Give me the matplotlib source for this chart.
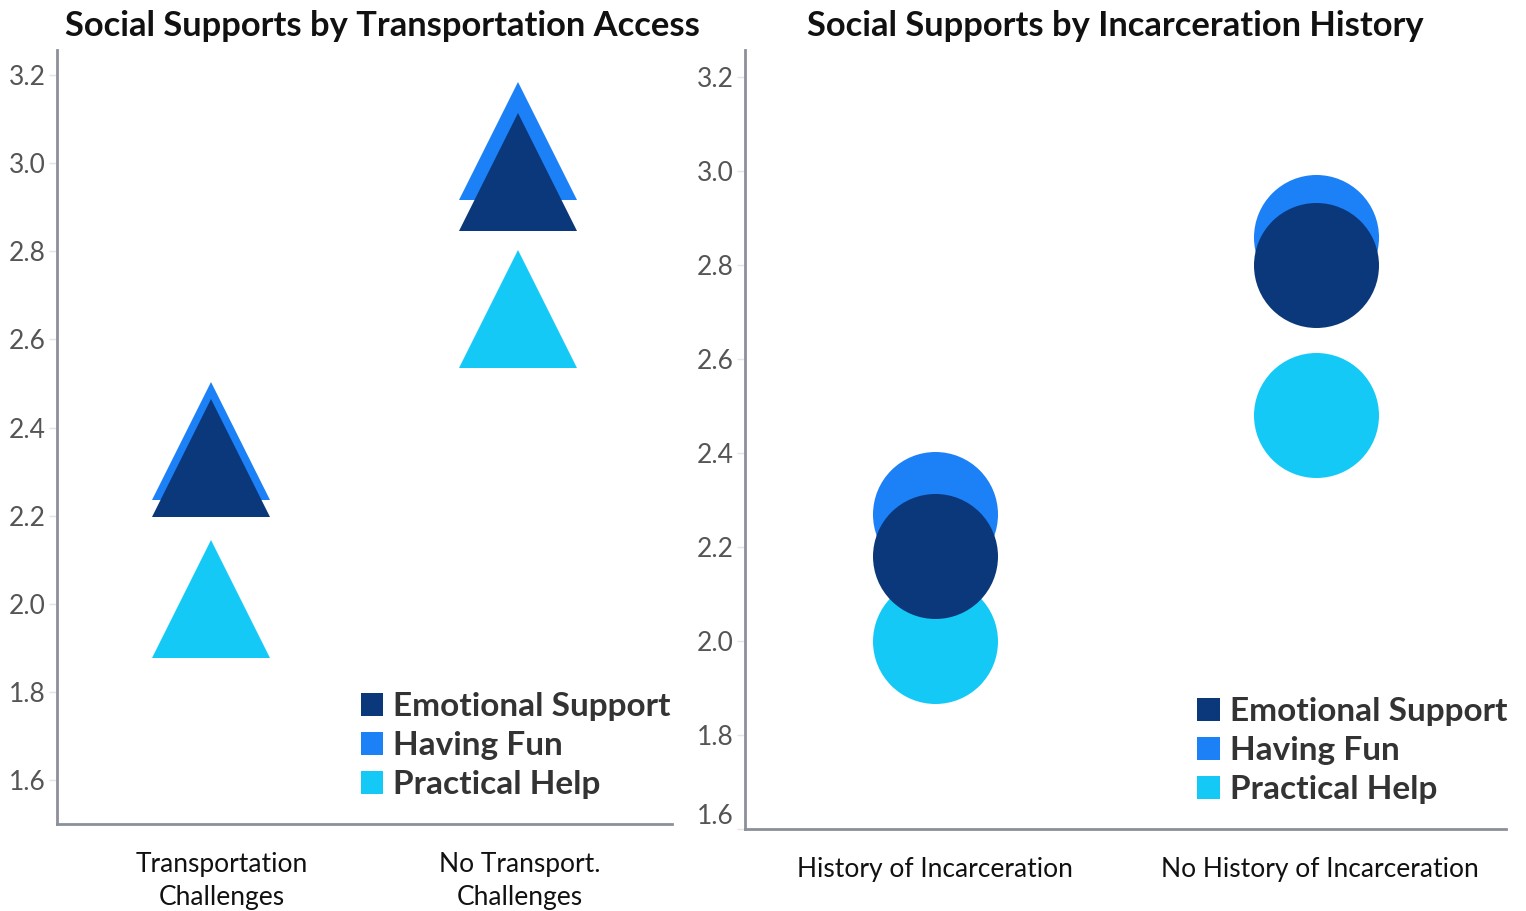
import matplotlib.pyplot as plt
from matplotlib.patches import Patch

plt.rcParams['font.family'] = ['Lato', 'DejaVu Sans']

series = ['Emotional Support', 'Having Fun', 'Practical Help']
colors = {'Emotional Support': '#0b377b', 'Having Fun': '#1c80f7', 'Practical Help': '#15c9f6'}

transport_groups = ['Transportation\nChallenges', 'No Transport.\nChallenges']
transport_vals = {
    'Emotional Support': [2.33, 2.98],
    'Having Fun': [2.37, 3.05],
    'Practical Help': [2.01, 2.67],
}

incarc_groups = ['History of Incarceration', 'No History of Incarceration']
incarc_vals = {
    'Emotional Support': [2.18, 2.80],
    'Having Fun': [2.27, 2.86],
    'Practical Help': [2.00, 2.48],
}

draw_order = ['Practical Help', 'Having Fun', 'Emotional Support']
spine_col = '#8b9099'

fig = plt.figure(figsize=(15.26, 9.11), dpi=100)
W, H = 1526, 911
ax1 = fig.add_axes([57 / W, (H - 824) / H, (672 - 57) / W, (824 - 50) / H])
ax2 = fig.add_axes([745 / W, (H - 829) / H, (1506 - 745) / W, (829 - 50) / H])


def style(ax, groups, ylim, label_pos, leg_x):
    ax.set_xlim(-0.5, 1.5)
    ax.set_ylim(*ylim)
    ax.set_yticks([1.6, 1.8, 2.0, 2.2, 2.4, 2.6, 2.8, 3.0, 3.2])
    # tick marks are hidden on x, so the label positions can be nudged freely
    ax.set_xticks(label_pos)
    ax.set_xticklabels(groups, fontsize=19, color='#111111', linespacing=1.4)
    ax.tick_params(axis='y', labelsize=19, labelcolor='#555555', color='#e4e4e4',
                   length=6, width=1, pad=2)
    ax.tick_params(axis='x', length=0, pad=20)
    for s in ['top', 'right']:
        ax.spines[s].set_visible(False)
    for s in ['left', 'bottom']:
        ax.spines[s].set_color(spine_col)
        ax.spines[s].set_linewidth(2)
    handles = [Patch(facecolor=colors[s], edgecolor='none', label=s) for s in series]
    leg = ax.legend(handles=handles, loc='lower right', bbox_to_anchor=(leg_x, 0.0),
                    frameon=False, handlelength=0.68, handleheight=0.68,
                    handletextpad=0.3, labelspacing=0.3, borderaxespad=0.35,
                    prop={'weight': 'bold', 'size': 24})
    for t in leg.get_texts():
        t.set_color('#333333')


for s in draw_order:
    ax1.plot([0, 1], transport_vals[s], linestyle='none', marker='^', markersize=85,
             markeredgewidth=0, color=colors[s])
    ax2.plot([0, 1], incarc_vals[s], linestyle='none', marker='o', markersize=90,
             markeredgewidth=0, color=colors[s])

style(ax1, transport_groups, (1.5, 3.257), [0.036, 1.006], 1.039)
style(ax2, incarc_groups, (1.6, 3.257), [0.0, 1.01], 1.035)

# keep the lowest label of the right panel inside the plot area
ax2.get_yticklabels()[0].set_va('bottom')

fig.text(382 / W, 1 - 26 / H, 'Social Supports by Transportation Access', fontsize=24.8,
         fontweight='bold', color='#111111', ha='center', va='center')
fig.text(1115 / W, 1 - 26 / H, 'Social Supports by Incarceration History', fontsize=24.8,
         fontweight='bold', color='#111111', ha='center', va='center')

fig.savefig('out.png', dpi=100)
